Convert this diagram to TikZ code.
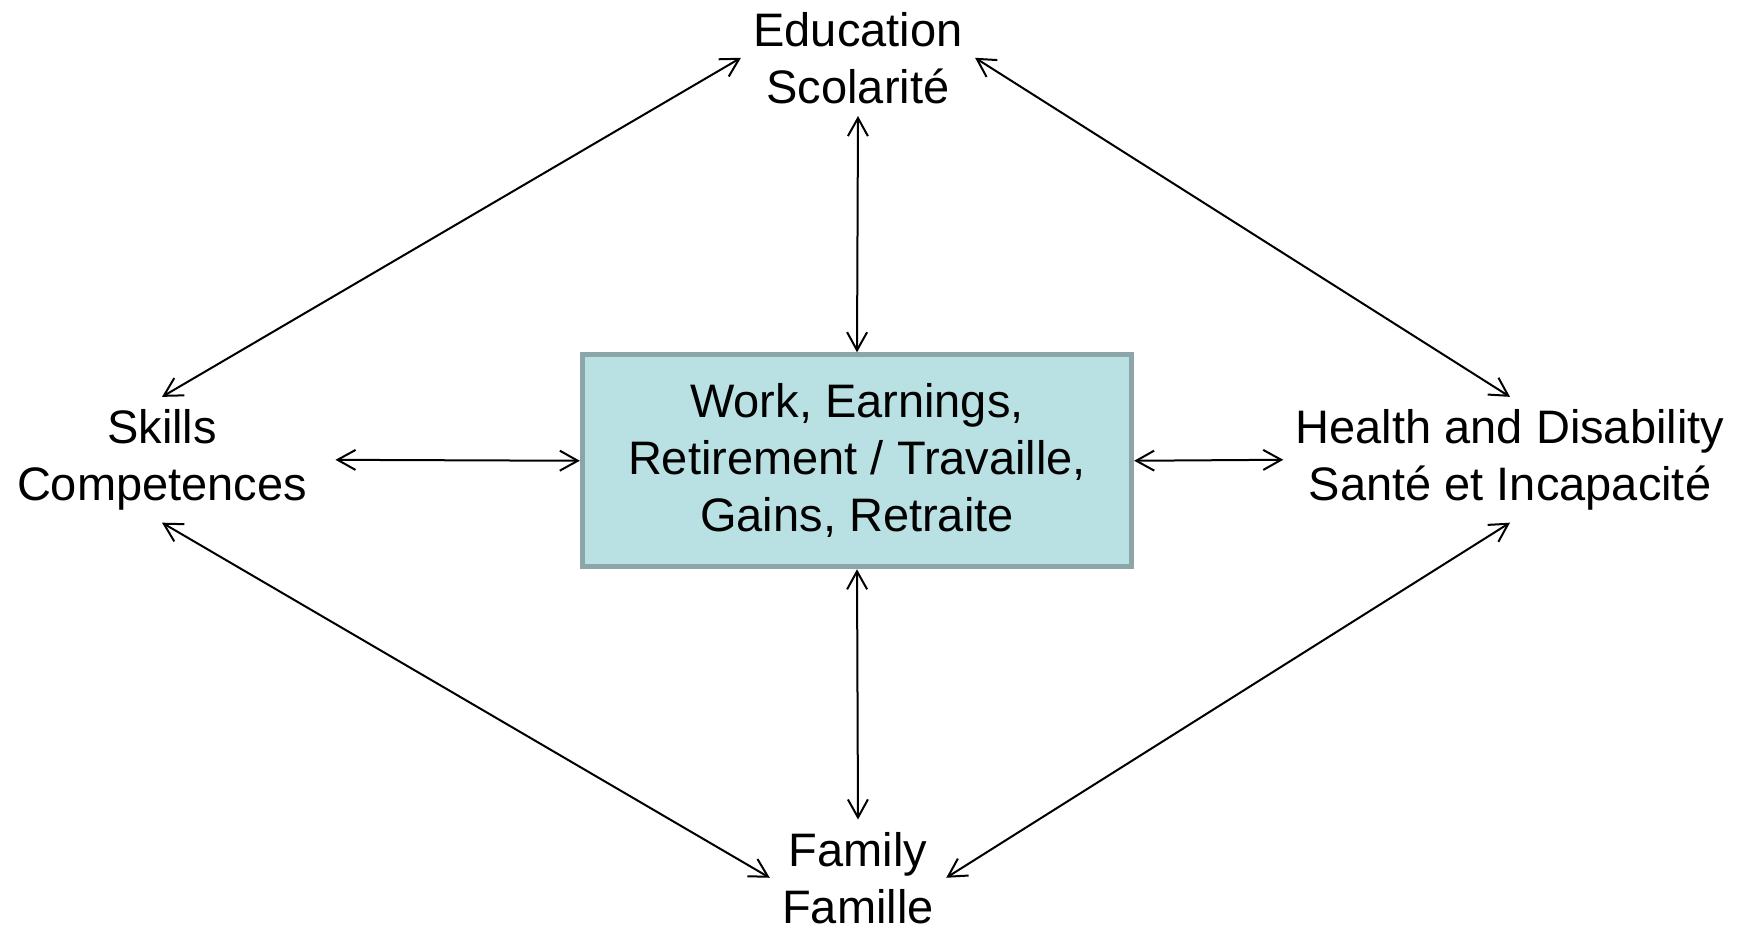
\documentclass[tikz,border=0pt]{standalone}
\usepackage{fontspec}
\setmainfont{Liberation Sans}
\usetikzlibrary{arrows.meta}

\tikzset{every picture/.style={line width=0.75pt}}
\tikzset{
  lbl/.style={align=center, inner sep=9pt, font=\fontsize{35.25pt}{42.75pt}\selectfont},
  workbox/.style={lbl, draw={rgb, 255:red, 139; green, 165; blue, 168 }, line width=3.75pt,
    fill={rgb, 255:red, 185; green, 224; blue, 227 }, minimum width=412pt, minimum height=159pt},
  link/.style={{Straight Barb[length=13.5pt,width=15pt]}-{Straight Barb[length=13.5pt,width=15pt]}, line width=1.5pt}
}

\begin{document}
\begin{tikzpicture}[x=0.75pt,y=0.75pt,yscale=-1,xscale=1]
		\path (0,0) rectangle (1746,921); %set diagram size

		\node [workbox] (work) at (857,460) {Work, Earnings,\\Retirement / Travaille,\\Gains, Retraite};
		\node [lbl] (edu) at (858,57) {Education\\Scolarité};
		\node [lbl] (skills) at (162,459) {Skills\\Competences};
		\node [lbl] (health) at (1510,459) {Health and Disability\\Santé et Incapacité};
		\node [lbl] (fam) at (858,877) {Family\\Famille};

		\draw [link] (edu.south) -- (work.north);
		\draw [link] (work.south) -- (fam.north);
		\draw [link,shorten <=12pt] (skills.east) -- (work.west);
		\draw [link] (work.east) -- (health.west);

		\draw [link] (skills.north) -- (edu.west);
		\draw [link] (edu.east) -- (health.north);
		\draw [link] (skills.south) -- (fam.west);
		\draw [link] (health.south) -- (fam.east);

\end{tikzpicture}
\end{document}
